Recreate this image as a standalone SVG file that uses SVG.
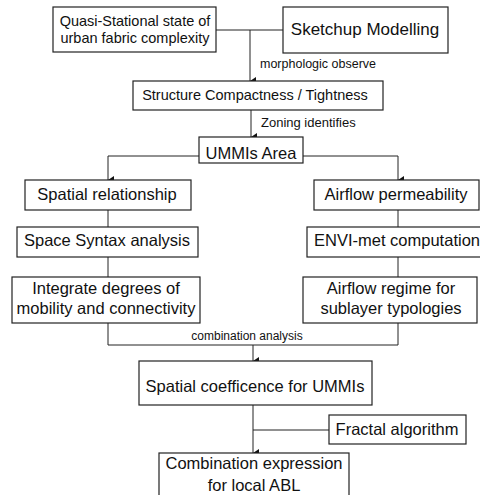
<svg xmlns="http://www.w3.org/2000/svg" width="480" height="495" viewBox="0 0 480 495">
  <defs>
    <marker id="arrow" viewBox="0 0 8 6" refX="4" refY="6" markerWidth="8" markerHeight="6" markerUnits="userSpaceOnUse" orient="auto-start-reverse">
      <path d="M0,0 L8,0 L4,6 Z" fill="#111"/>
    </marker>
  </defs>
  <style>
    .box { fill: #fff; stroke: #222; stroke-width: 1.2; }
    .txt { font-family: "Liberation Sans", Arial, sans-serif; fill: #111; text-anchor: middle; }
    .t16 { font-size: 16.5px; }
    .t14 { font-size: 14.5px; }
    .lbl { font-family: "Liberation Sans", Arial, sans-serif; fill: #111; font-size: 12.5px; }
    .wire { fill: none; stroke: #222; stroke-width: 1; }
  </style>
  <rect width="480" height="495" fill="#fff"/>

  <!-- connectors -->
  <g id="connectors">
    <path class="wire" d="M216,30 H283"/>
    <path class="wire" d="M250,30 V81" marker-end="url(#arrow)"/>
    <path class="wire" d="M251,110 V137" marker-end="url(#arrow)"/>
    <path class="wire" d="M199,156 H108 V180" marker-end="url(#arrow)"/>
    <path class="wire" d="M303,156 H398 V180" marker-end="url(#arrow)"/>
    <path class="wire" d="M108,210 V227"/>
    <path class="wire" d="M398,210 V227"/>
    <path class="wire" d="M108,257 V277"/>
    <path class="wire" d="M398,257 V277"/>
    <path class="wire" d="M108,323 V345 H398 V323"/>
    <path class="wire" d="M253,345 V361" marker-end="url(#arrow)"/>
    <path class="wire" d="M253,405 V453" marker-end="url(#arrow)"/>
    <path class="wire" d="M253,430 H329"/>
    <text class="lbl" x="260" y="68">morphologic observe</text>
    <text class="lbl" x="261" y="127" style="font-size:13px">Zoning identifies</text>
    <text class="lbl" x="247" y="340" text-anchor="middle" style="font-size:12px">combination analysis</text>
  </g>

  <g id="quasi-stational">
    <rect class="box" x="53" y="7" width="163" height="45"/>
    <text class="txt t14" x="135" y="26">Quasi-Stational state of</text>
    <text class="txt t14" x="135" y="43">urban fabric complexity</text>
  </g>

  <g id="sketchup">
    <rect class="box" x="283" y="7" width="165" height="46"/>
    <text class="txt" x="365" y="35" style="font-size:17px">Sketchup Modelling</text>
  </g>

  <g id="compactness">
    <rect class="box" x="133" y="81" width="250" height="29"/>
    <text class="txt t14" x="255" y="100">Structure Compactness / Tightness</text>
  </g>

  <g id="ummis-area">
    <rect class="box" x="199" y="137" width="104" height="26"/>
    <text class="txt t16" x="251" y="159">UMMIs Area</text>
  </g>

  <g id="spatial-relationship">
    <rect class="box" x="25" y="180" width="166" height="30"/>
    <text class="txt t16" x="107" y="200">Spatial relationship</text>
  </g>

  <g id="airflow-permeability">
    <rect class="box" x="314" y="180" width="165" height="30"/>
    <text class="txt t16" x="396" y="200">Airflow permeability</text>
  </g>

  <g id="space-syntax">
    <rect class="box" x="17" y="227" width="181" height="30"/>
    <text class="txt t16" x="107" y="246">Space Syntax analysis</text>
  </g>

  <g id="envi-met">
    <rect class="box" x="307" y="227" width="182" height="30"/>
    <text class="txt t16" x="397" y="246">ENVI-met computation</text>
  </g>

  <g id="integrate">
    <rect class="box" x="12" y="277" width="188" height="46"/>
    <text class="txt t16" x="106" y="294">Integrate degrees of</text>
    <text class="txt t16" x="106" y="314">mobility and connectivity</text>
  </g>

  <g id="airflow-regime">
    <rect class="box" x="303" y="277" width="174" height="46"/>
    <text class="txt t16" x="391" y="294">Airflow regime for</text>
    <text class="txt t16" x="391" y="314">sublayer typologies</text>
  </g>

  <g id="spatial-coefficence">
    <rect class="box" x="139" y="361" width="233" height="44"/>
    <text class="txt t16" x="255" y="392">Spatial coefficence for UMMIs</text>
  </g>

  <g id="fractal">
    <rect class="box" x="329" y="415" width="137" height="29"/>
    <text class="txt t16" x="397" y="435">Fractal algorithm</text>
  </g>

  <g id="combination-expression">
    <rect class="box" x="159" y="453" width="190" height="50"/>
    <text class="txt t16" x="254" y="469">Combination expression</text>
    <text class="txt t16" x="254" y="491">for local ABL</text>
  </g>
</svg>
